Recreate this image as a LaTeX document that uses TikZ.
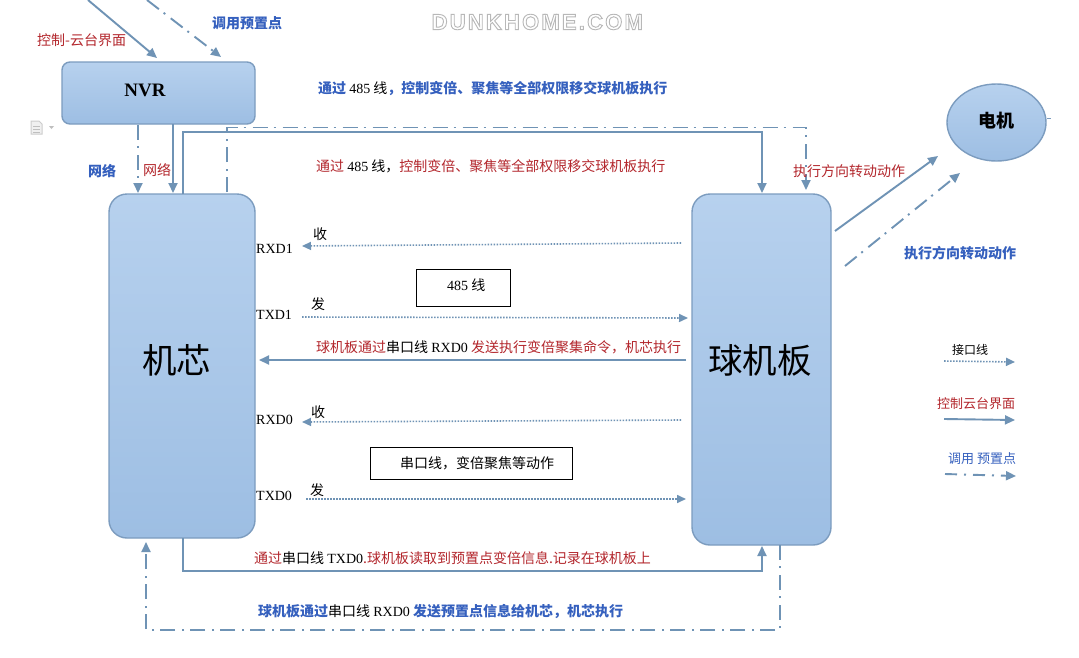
\documentclass[tikz,border=0pt]{standalone}
\usepackage{fontspec}
\setmainfont{Noto Sans CJK SC}
\newfontfamily\latfont{Liberation Serif}
\newfontfamily\markfont[LetterSpace=10]{Liberation Sans}
\usetikzlibrary{arrows.meta,shapes.geometric}

\definecolor{linecol}{HTML}{6F93B5}
\definecolor{edgecol}{HTML}{7C9CBF}
\definecolor{boxtop}{HTML}{B7D1EE}
\definecolor{boxbot}{HTML}{9DBEE3}
\definecolor{redtxt}{HTML}{B3262C}
\definecolor{bluetxt}{HTML}{3560BE}

\newcommand{\lat}[1]{{\latfont #1}}
\newcommand{\rd}[1]{\textcolor{redtxt}{#1}}
\newcommand{\bl}[1]{\textcolor{bluetxt}{\bfseries #1}}
\newcommand{\outlined}[1]{\special{pdf:code q 2 Tr 0.72 G 0.9 w}#1\special{pdf:code 0 Tr Q}}

\tikzset{
    x=1pt, y=-1pt,
    block/.style={draw=edgecol, line width=1.4pt, top color=boxtop, bottom color=boxbot, inner sep=0pt},
    txt/.style={anchor=west, inner sep=0pt, font=\fontsize{14}{16}\selectfont},
    smalltxt/.style={txt, font=\fontsize{13}{15}\selectfont},
    framed/.style={draw=black, line width=0.7pt, inner sep=0pt},
    arrowline/.style={draw=linecol, line width=1.9pt, -{Triangle[length=10pt,width=9pt]}},
    solidline/.style={arrowline},
    dotline/.style={arrowline, line width=1.6pt, dash pattern=on 1.5pt off 1.5pt, -{Triangle[length=9pt,width=8pt]}},
    dashline/.style={arrowline, dash pattern=on 15pt off 6pt on 2pt off 7pt},
}

\begin{document}
\begin{tikzpicture}
    \useasboundingbox[fill=white] (0,0) rectangle (1079,657);

    % blocks
    \node[block, rounded corners=8pt, minimum width=193pt, minimum height=62pt,
        label={[font=\latfont\bfseries\fontsize{19}{21}\selectfont, xshift=-13.5pt, yshift=3pt]center:NVR}] (nvr) at (158.5,93) {};
    \node[block, rounded corners=18pt, minimum width=146pt, minimum height=344pt,
        label={[font=\fontsize{34.5}{38}\selectfont, xshift=-5.5pt, yshift=6pt]center:机芯}] (core) at (182,366) {};
    \node[block, rounded corners=18pt, minimum width=139pt, minimum height=351pt,
        label={[font=\fontsize{34.5}{38}\selectfont, xshift=-1.5pt, yshift=9.5pt]center:球机板}] (board) at (761.5,369.5) {};
    \node[block, ellipse, minimum width=99pt, minimum height=77pt,
        label={[font=\bfseries\fontsize{18}{20}\selectfont, yshift=2pt]center:电机}] (motor) at (996.5,122.5) {};
    \node[framed, minimum width=94pt, minimum height=37pt] (box485) at (463,287.5) {};
    \node[framed, minimum width=202pt, minimum height=32pt] (boxserial) at (471,463) {};

    % free ends
    \coordinate (redin) at (88,0);
    \coordinate (redend) at (157,58);
    \coordinate (bluein) at (147,0);
    \coordinate (blueend) at (221,57);
    \coordinate (motora) at (835,231);
    \coordinate (motorb) at (938,156);
    \coordinate (motorc) at (845,266);
    \coordinate (motord) at (960,173);
    \coordinate (rxa) at (681,243);
    \coordinate (rxb) at (302,246);
    \coordinate (txa) at (302,317);
    \coordinate (txb) at (688,318);
    \coordinate (cmda) at (686,360);
    \coordinate (cmdb) at (259,360);
    \coordinate (rza) at (681,420);
    \coordinate (rzb) at (302,422);
    \coordinate (tza) at (306,499);
    \coordinate (tzb) at (686,499);
    \coordinate (keya) at (944,361);
    \coordinate (keyb) at (1015,362);
    \coordinate (keyc) at (944,419);
    \coordinate (keyd) at (1015,420);
    \coordinate (keye) at (945,474);
    \coordinate (keyf) at (1016,476);

    % top
    \draw[solidline] (redin) -- (redend);
    \draw[dashline] (bluein) -- (blueend);
    \draw[dashline] (138,125) -- (138,193);
    \draw[solidline] (173,124) -- (173,193);

    % 485 bus
    \draw[solidline] (183,194) -- (183,132) -- (762,132) -- (762,193);
    \draw[dashline] (227,192) -- (227,127.5) -- (806,127.5) -- (806,190);

    % motor
    \draw[solidline] (motora) -- (motorb);
    \draw[dashline] (motorc) -- (motord);
    \draw[line width=0.6pt, edgecol] ([yshift=4pt]motor.east) -- ++(4,0);

    % interface
    \draw[dotline] (rxa) -- (rxb);
    \draw[dotline] (txa) -- (txb);
    \draw[solidline] (cmda) -- (cmdb);
    \draw[dotline] (rza) -- (rzb);
    \draw[dotline] (tza) -- (tzb);

    % bottom
    \draw[solidline] (183,538) -- (183,571) -- (762,571) -- (762,546);
    \draw[dashline] (780,545) -- (780,630) -- (146,630) -- (146,542);

    % key
    \draw[dotline] (keya) -- (keyb);
    \draw[solidline] (keyc) -- (keyd);
    \draw[dashline, dash pattern=on 12pt off 7pt on 2pt off 7pt] (keye) -- (keyf);

    % labels
    \node[txt, text=redtxt] (lbctrl) at (37,40) {控制-云台界面};
    \node[txt, text=bluetxt, font=\bfseries\fontsize{14}{16}\selectfont] (lbcall) at (212,23) {调用预置点};
    \node[txt, text=bluetxt, font=\bfseries\fontsize{14}{16}\selectfont] (lbnetb) at (88,171) {网络};
    \node[txt, text=redtxt] (lbnetr) at (143,170) {网络};
    \node[txt] (lbbusb) at (318,88) {\bl{通过} \lat{485} 线\bl{，控制变倍、聚焦等全部权限移交球机板执行}};
    \node[txt] (lbbusr) at (316,166) {\rd{通过} \lat{485} 线，\rd{控制变倍、聚焦等全部权限移交球机板执行}};
    \node[txt, text=redtxt] (lbmotr) at (793,171) {执行方向转动动作};
    \node[txt, text=bluetxt, font=\bfseries\fontsize{14}{16}\selectfont] (lbmotb) at (904,253) {执行方向转动动作};
    \node[txt] (lbrecv) at (313,234) {收};
    \node[txt] (lbsend) at (311,304) {发};
    \node[txt] (lbrecz) at (311,412) {收};
    \node[txt] (lbsenz) at (310,490) {发};
    \node[txt, font=\latfont\fontsize{14}{16}\selectfont] (lbrx) at (256,249) {RXD1};
    \node[txt, font=\latfont\fontsize{14}{16}\selectfont] (lbtx) at (256,315) {TXD1};
    \node[txt, font=\latfont\fontsize{14}{16}\selectfont] (lbrz) at (256,420) {RXD0};
    \node[txt, font=\latfont\fontsize{14}{16}\selectfont] (lbtz) at (256,496) {TXD0};
    \node[txt] (lb485) at (447,285) {\lat{485} 线};
    \node[txt] (lbserial) at (400,463) {串口线，变倍聚焦等动作};
    \node[txt] (lbcmd) at (316,347) {\rd{球机板通过}串口线 \lat{RXD0} \rd{发送执行变倍聚集命令，机芯执行}};
    \node[txt] (lbread) at (254,558) {\rd{通过}串口线 \lat{TXD0}\rd{.球机板读取到预置点变倍信息.记录在球机板上}};
    \node[txt] (lbsendz) at (258,612) {\bl{球机板通过}串口线 \lat{RXD0} \bl{发送预置点信息给机芯，机芯执行}};
    \node[smalltxt, font=\fontsize{12}{14}\selectfont] (keydot) at (952,350) {接口线};
    \node[smalltxt, text=redtxt] (keysol) at (937,404) {控制云台界面};
    \node[smalltxt, text=bluetxt] (keydash) at (948,459) {调用 预置点};

    % watermark
    \node[txt, text=white, font=\markfont\bfseries\fontsize{22}{24}\selectfont] (marktext) at (431.5,22) {\outlined{DUNKHOME.COM}};

    % page icon
    \draw[black!20, fill=black!6, line width=1pt] (31,121) -- (39,121) -- (42,124) -- (42,134) -- (31,134) -- cycle;
    \draw[black!25, line width=0.8pt] (33,126) -- (40,126) (33,129) -- (40,129) (33,132) -- (40,132);
    \fill[black!25] (49,126) -- (54,126) -- (51.5,129) -- cycle;
\end{tikzpicture}
\end{document}
